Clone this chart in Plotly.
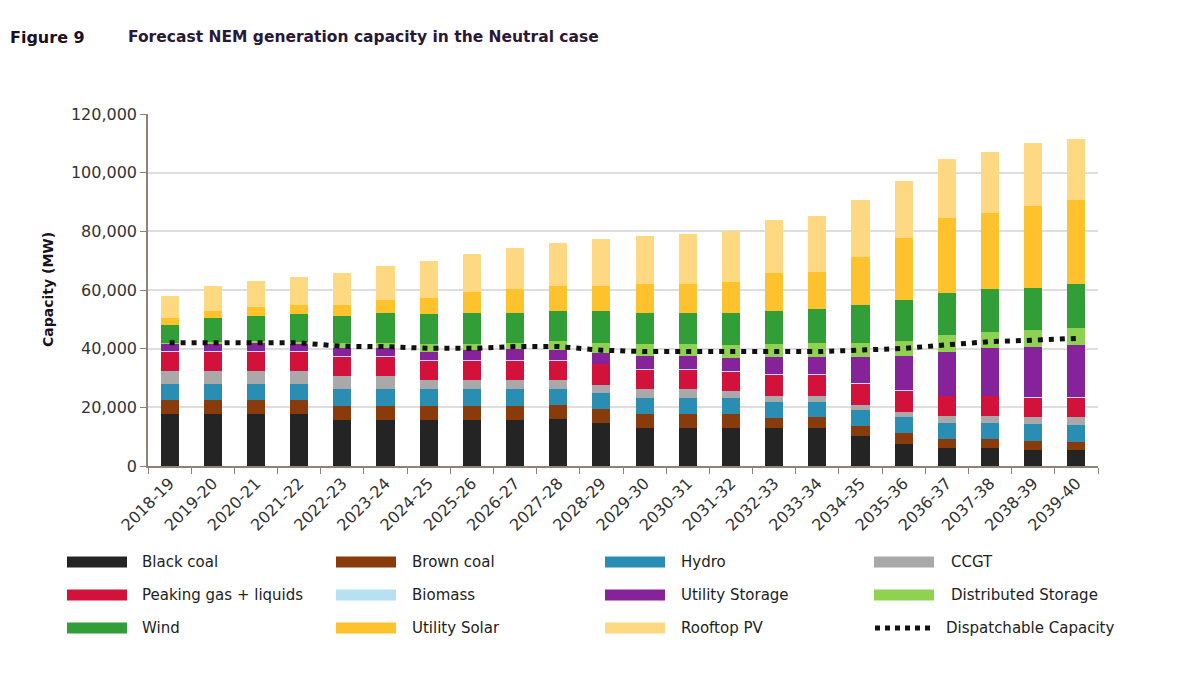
import plotly.graph_objects as go

years = ["2018-19", "2019-20", "2020-21", "2021-22", "2022-23", "2023-24", "2024-25",
         "2025-26", "2026-27", "2027-28", "2028-29", "2029-30", "2030-31", "2031-32",
         "2032-33", "2033-34", "2034-35", "2035-36", "2036-37", "2037-38", "2038-39",
         "2039-40"]

# capacity by technology (MW)
black_coal = [17600, 17600, 17600, 17600, 15700, 15700, 15700, 15700, 15700, 15900, 14800,
              12800, 12800, 12800, 12900, 13100, 10300, 7500, 6250, 6250, 5450, 5450]
brown_coal = [4900, 4900, 4900, 4900, 4900, 4900, 4900, 4900, 4900, 4800, 4600,
              4900, 4900, 4900, 3600, 3500, 3300, 3600, 2950, 2950, 3050, 2850]
hydro = [5500, 5500, 5500, 5500, 5600, 5600, 5600, 5600, 5600, 5500, 5600,
         5600, 5600, 5600, 5400, 5300, 5500, 5500, 5600, 5600, 5700, 5700]
ccgt = [4400, 4400, 4400, 4400, 4500, 4500, 3100, 3100, 3100, 3100, 2600,
        2800, 2800, 2300, 2000, 2000, 1700, 1700, 2200, 2200, 2400, 2600]
peaking = [6600, 6600, 6600, 6600, 6600, 6600, 6600, 6600, 6600, 6600, 7200,
           6900, 6900, 6600, 7200, 7400, 7400, 7400, 6900, 6900, 6800, 6800]
biomass = [100] * 22
utility_storage = [2700, 2700, 2700, 2700, 2900, 2700, 3000, 3500, 3800, 3500, 3500,
                   4500, 4500, 4600, 5900, 5800, 8900, 11800, 15000, 16100, 17200, 17800]
distributed_storage = [200, 400, 800, 600, 1700, 1700, 2600, 2000, 2000, 3100, 3600,
                       3900, 3900, 4400, 4400, 4800, 4800, 5000, 5700, 5700, 5700, 5600]
wind = [6100, 8400, 8600, 9400, 9100, 10500, 10100, 10800, 10500, 10200, 10800,
        10800, 10800, 11000, 11300, 11500, 12900, 14000, 14400, 14400, 14400, 15100]
utility_solar = [2500, 2200, 3100, 3100, 3700, 4300, 5700, 6900, 7900, 8600, 8600,
                 9700, 9700, 10400, 12900, 12700, 16500, 21200, 25600, 26200, 27800, 28700]
rooftop_pv = [7400, 8700, 8900, 9700, 11100, 11600, 12600, 13100, 14000, 14700, 15900,
              16500, 17100, 17500, 18200, 19000, 19300, 19500, 19800, 20800, 21400, 20700]
dispatchable = [42000, 42000, 42400, 42000, 40800, 40700, 40100, 40100, 40700, 40700, 39500,
                39000, 39000, 39000, 39000, 39000, 39500, 40100, 41300, 42400, 42900, 43500]

series = [
    ("Black coal", black_coal, "#242424"),
    ("Brown coal", brown_coal, "#8a3b0b"),
    ("Hydro", hydro, "#2a8db3"),
    ("CCGT", ccgt, "#a9a9a9"),
    ("Peaking gas + liquids", peaking, "#d2123a"),
    ("Biomass", biomass, "#b7e0f2"),
    ("Utility Storage", utility_storage, "#86239b"),
    ("Distributed Storage", distributed_storage, "#8fd150"),
    ("Wind", wind, "#319e38"),
    ("Utility Solar", utility_solar, "#fec22c"),
    ("Rooftop PV", rooftop_pv, "#fed981"),
]

FONT = "DejaVu Sans"
# plot area in page pixels (page has an 8px body margin)
OFF = 8
L, R, T, B = 148, 1098, 114, 466


def px(x):
    return (x - L) / (R - L)


def py(y):
    return (B - y) / (B - T)


fig = go.Figure()
for name, vals, col in series:
    fig.add_trace(go.Bar(x=years, y=vals, name=name, marker=dict(color=col, line=dict(width=0))))

fig.add_trace(go.Scatter(x=years, y=dispatchable, mode="lines", name="Dispatchable Capacity",
                         line=dict(color="#111111", width=5, dash="5px,6px")))

# legend drawn by hand (wide swatches in a 4 x 3 grid)
legend_order = [
    [0, 1, 2, 3],
    [4, 5, 6, 7],
    [8, 9, 10, None],
]
col_swatch = [67, 336, 605, 874]
col_text = [140, 410, 679, 949]
row_y = [562, 595, 628]
shapes = []
annotations = []
for r, row in enumerate(legend_order):
    for c, idx in enumerate(row):
        yc = row_y[r]
        if idx is None:
            shapes.append(dict(type="line", xref="paper", yref="paper",
                               x0=px(col_swatch[c] + 1), x1=px(col_swatch[c] + 58),
                               y0=py(yc), y1=py(yc),
                               line=dict(color="#111111", width=5, dash="5px,5px")))
            label = "Dispatchable Capacity"
            tx = col_text[c] - 5
        else:
            name, _, col = series[idx]
            shapes.append(dict(type="rect", xref="paper", yref="paper",
                               x0=px(col_swatch[c]), x1=px(col_swatch[c] + 60),
                               y0=py(yc + 5.5), y1=py(yc - 5.5),
                               fillcolor=col, line=dict(width=0)))
            label = name
            tx = col_text[c]
        annotations.append(dict(xref="paper", yref="paper", x=px(tx), y=py(yc),
                                xanchor="left", yanchor="middle", showarrow=False,
                                text=label, font=dict(family=FONT, size=15, color="#222222")))

annotations += [
    dict(xref="paper", yref="paper", x=px(8), y=py(37), xanchor="left", yanchor="middle",
         showarrow=False, text="<b>Figure 9</b>",
         font=dict(family=FONT, size=16, color="#1a1020")),
    dict(xref="paper", yref="paper", x=px(126), y=py(37), xanchor="left", yanchor="middle",
         showarrow=False, text="<b>Forecast NEM generation capacity in the Neutral case</b>",
         font=dict(family=FONT, size=15.5, color="#2b1736")),
    dict(xref="paper", yref="paper", x=px(48), y=0.5, xanchor="center", yanchor="middle",
         showarrow=False, textangle=-90, text="<b>Capacity (MW)</b>",
         font=dict(family=FONT, size=14, color="#1a1020")),
]

fig.update_layout(
    width=1186, height=690,
    margin=dict(l=L - OFF, r=1186 - (R - OFF), t=T - OFF, b=690 - (B - OFF)),
    barmode="stack", bargap=0.58,
    plot_bgcolor="white", paper_bgcolor="white",
    showlegend=False,
    font=dict(family=FONT, size=14, color="#333333"),
    shapes=shapes, annotations=annotations,
    xaxis=dict(type="category", tickangle=-45, tickson="boundaries", ticks="outside",
               ticklen=6, tickcolor="#8c8477", showline=True, linecolor="#8c8477",
               linewidth=1.5, showgrid=False, tickfont=dict(family=FONT, size=16, color="#333333")),
    yaxis=dict(range=[0, 120000], dtick=20000, tickformat=",", ticks="outside", ticklen=6,
               tickcolor="#8c8477", showline=True, linecolor="#8c8477", linewidth=1.5,
               gridcolor="#dedede", gridwidth=1.5, zeroline=False,
               tickfont=dict(family=FONT, size=16, color="#333333")),
)

fig.write_html("out.html")
